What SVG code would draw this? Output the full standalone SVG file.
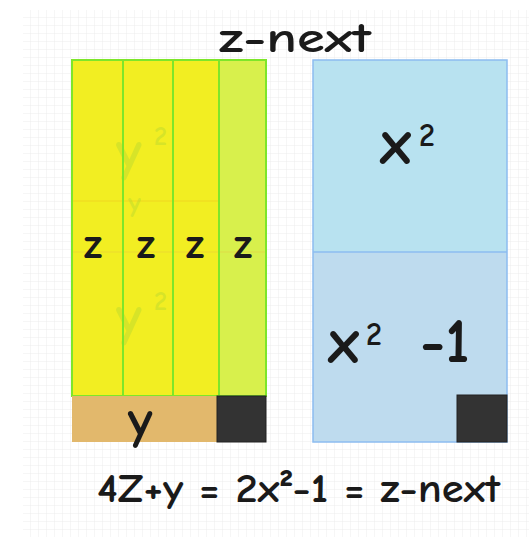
<svg xmlns="http://www.w3.org/2000/svg" width="529" height="537" viewBox="0 0 529 537">
<defs>
<pattern id="grid" width="8" height="8" patternUnits="userSpaceOnUse" x="23" y="10">
<path d="M8 0V8H0" fill="none" stroke="#ececec" stroke-width="1"/>
</pattern>
<style>
.hand{font-family:"Comic Neue","DejaVu Sans","Liberation Sans",sans-serif;fill:#1a1a1a;font-weight:bold;}
.ghost{font-family:"Comic Neue","DejaVu Sans","Liberation Sans",sans-serif;fill:#b8d830;opacity:0.45;font-weight:bold;}
.col{stroke:#7ee62a;stroke-width:2;}
.blue{stroke:#8cbcf0;stroke-width:1.5;}
.dark{fill:#333333;stroke:#222;stroke-width:1;}
</style>
</defs>
<rect x="0" y="0" width="529" height="537" fill="#ffffff"/>
<rect x="23" y="10" width="506" height="527" fill="url(#grid)"/>
<text class="hand" x="219" y="52" font-size="42" textLength="152" lengthAdjust="spacingAndGlyphs">z-next</text>
<g id="left-block">
<rect x="72" y="60" width="147" height="336" fill="#f2ee22"/>
<rect x="219" y="60" width="47" height="336" fill="#d8f04c"/>
<line x1="72" y1="201" x2="219" y2="201" stroke="#f0c820" stroke-width="1" opacity="0.6"/>
<line x1="72" y1="252" x2="266" y2="252" stroke="#e8c040" stroke-width="1" opacity="0.4"/>
<text class="ghost" x="116" y="170" font-size="56">y</text>
<text class="ghost" x="154" y="145" font-size="26">2</text>
<text class="ghost" x="128" y="212" font-size="28">y</text>
<text class="ghost" x="116" y="335" font-size="56">y</text>
<text class="ghost" x="154" y="310" font-size="26">2</text>
<rect x="72" y="60" width="194" height="336" fill="none" class="col"/>
<line x1="123" y1="60" x2="123" y2="396" class="col"/>
<line x1="173" y1="60" x2="173" y2="396" class="col"/>
<line x1="219" y1="60" x2="219" y2="396" class="col"/>
<text class="hand" x="93" y="258" font-size="42" text-anchor="middle">z</text>
<text class="hand" x="146" y="258" font-size="42" text-anchor="middle">z</text>
<text class="hand" x="195" y="258" font-size="42" text-anchor="middle">z</text>
<text class="hand" x="243" y="258" font-size="42" text-anchor="middle">z</text>
</g>
<g id="y-bar">
<rect x="72" y="396" width="145" height="46" fill="#e2b86c"/>
<text class="hand" x="140" y="438" font-size="54" text-anchor="middle">y</text>
<rect x="217" y="396" width="49" height="46" class="dark"/>
</g>
<g id="right-block">
<rect x="313" y="60" width="194" height="192" fill="#b8e2f0"/>
<rect x="313" y="252" width="194" height="190" fill="#bedbee"/>
<rect x="313" y="60" width="194" height="382" fill="none" class="blue"/>
<line x1="313" y1="252" x2="507" y2="252" class="blue"/>
<text class="hand" x="380" y="164" font-size="64">x</text>
<text class="hand" x="419" y="146" font-size="32">2</text>
<text class="hand" x="328" y="363" font-size="64">x</text>
<text class="hand" x="366" y="345" font-size="32">2</text>
<text class="hand" x="420" y="362" font-size="62">-1</text>
<rect x="457" y="395" width="50" height="47" class="dark"/>
</g>
<g id="equation">
<text class="hand" x="97" y="502" font-size="40" textLength="403" lengthAdjust="spacingAndGlyphs">4Z+y = 2x²-1 = z-next</text>
</g>
</svg>
